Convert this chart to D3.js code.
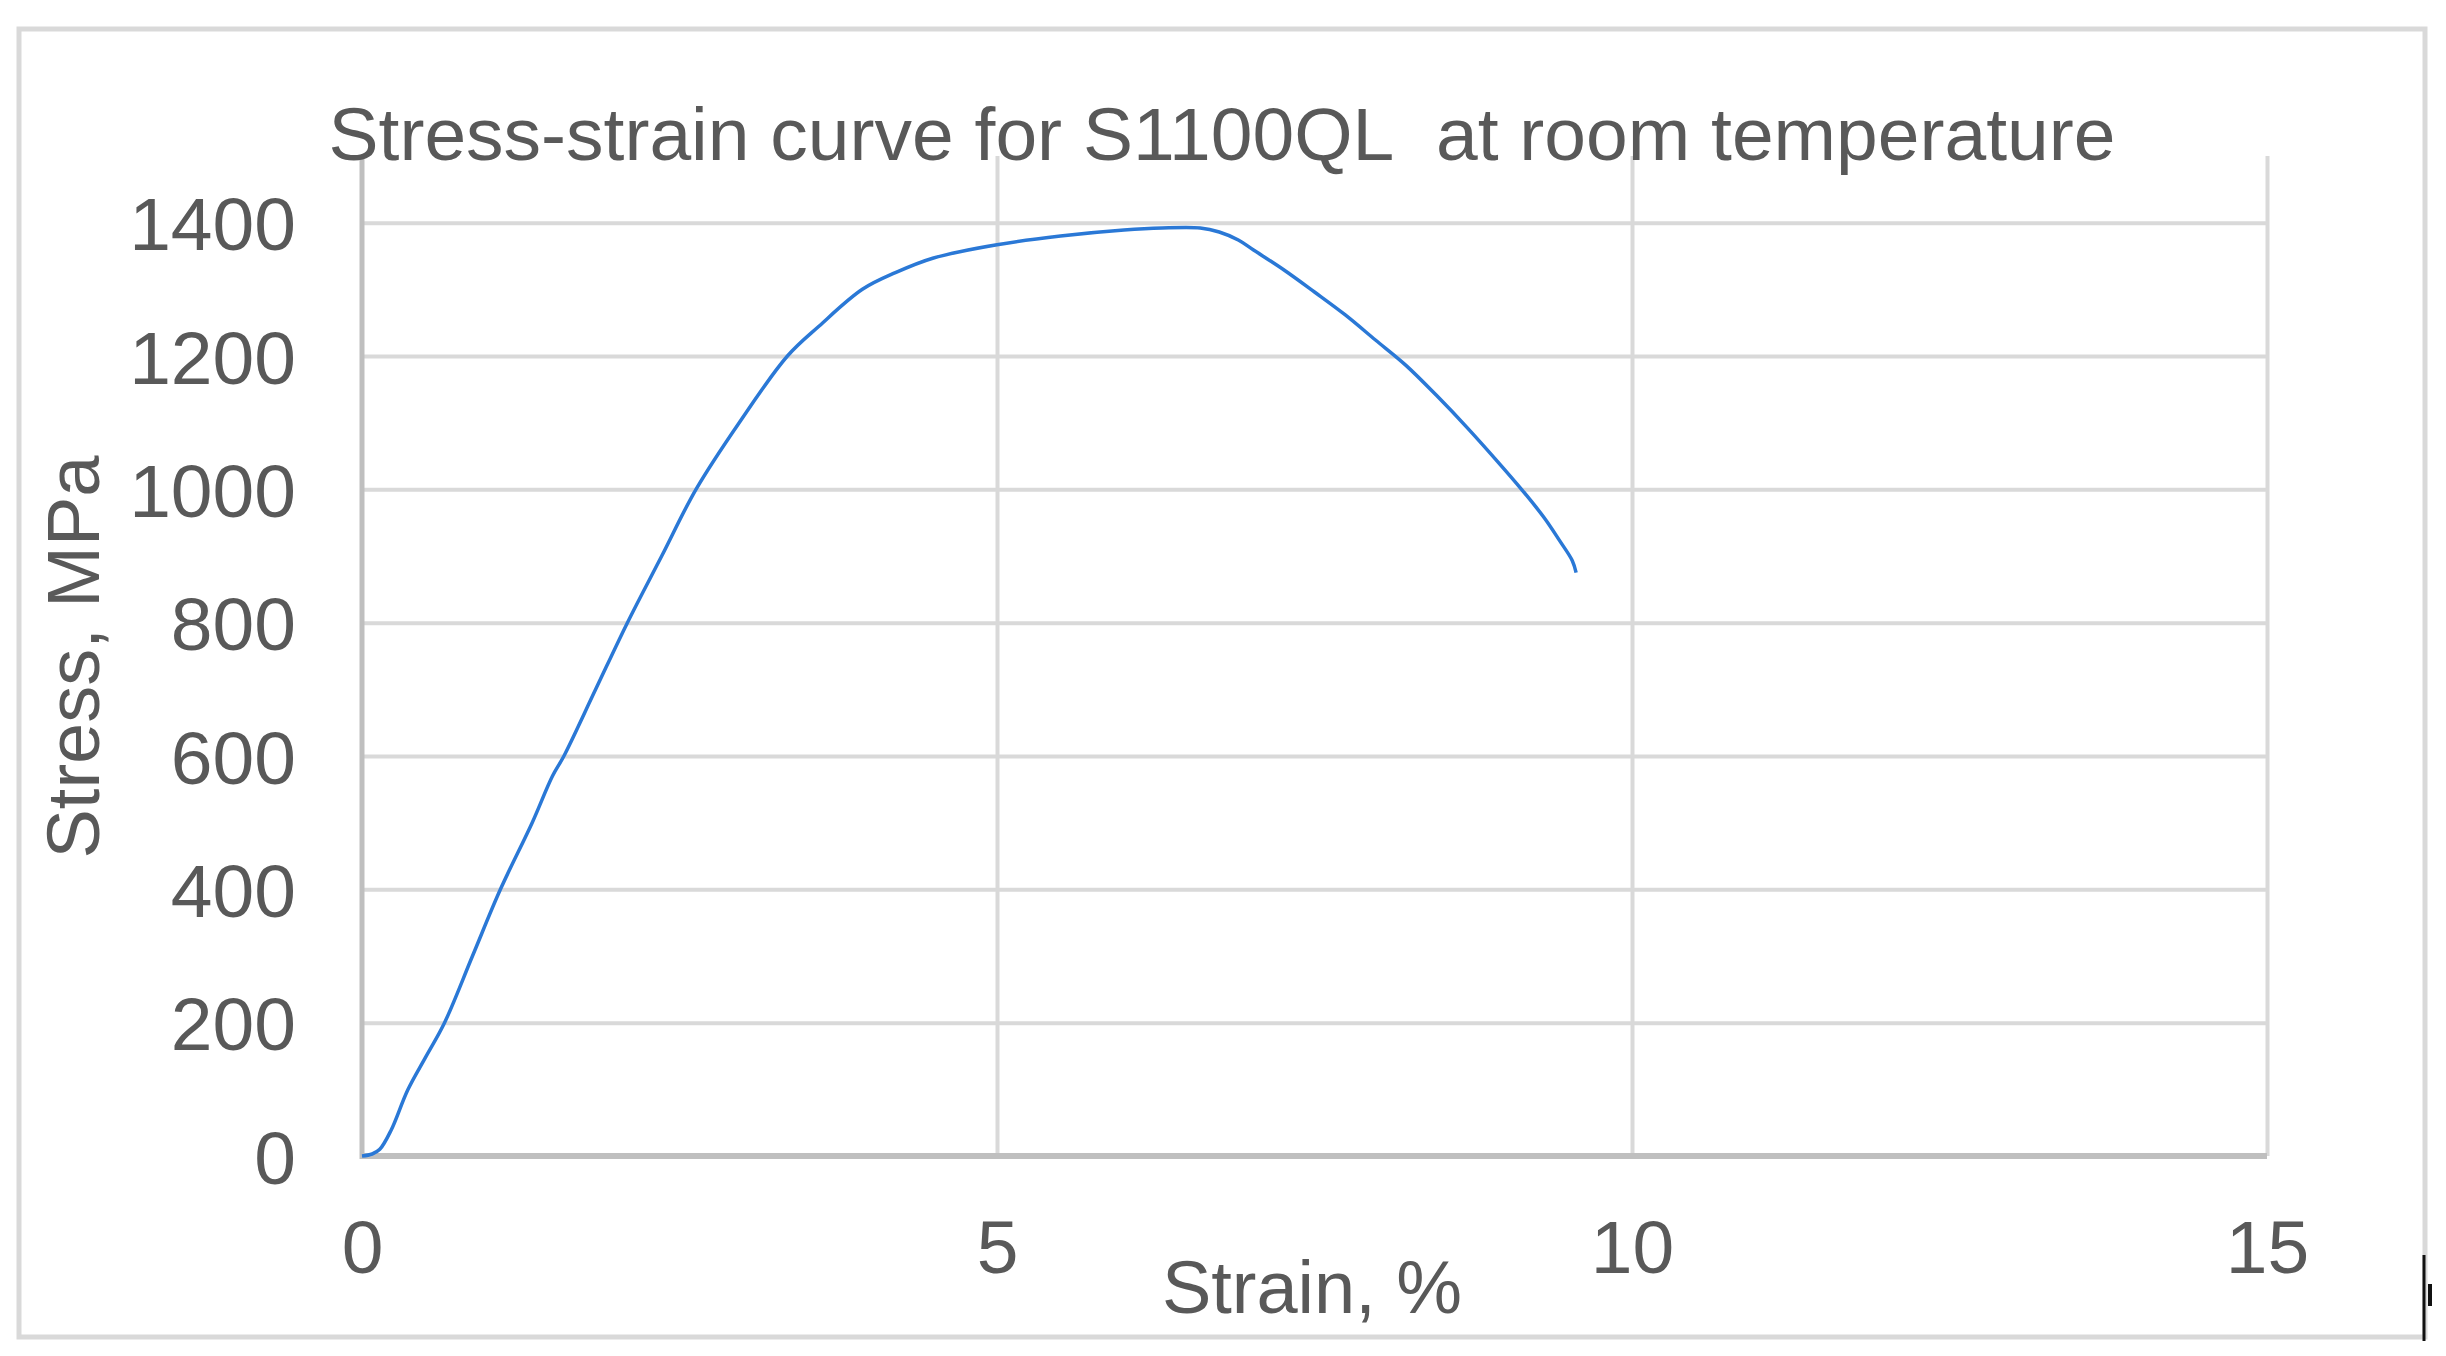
<!DOCTYPE html>
<html>
<head>
<meta charset="utf-8">
<script src="https://cdn.jsdelivr.net/npm/d3@7"></script>
<style>
  html, body { margin: 0; padding: 0; background: #ffffff; }
  svg { display: block; }
  text { font-family: "Liberation Sans", Arial, sans-serif; fill: #595959; }
</style>
</head>
<body>
<svg id="chart" width="2446" height="1356"></svg>
<script>
// ---- Data ----
const strain = [0, 0.08, 0.14, 0.23, 0.36, 0.50, 0.65, 0.87, 1.09, 1.34, 1.50, 1.59, 1.84, 2.09, 2.36, 2.63,
  2.97, 3.35, 3.60, 3.94, 4.20, 4.50, 5.00, 5.50, 6.00, 6.30, 6.60, 6.75, 6.90,
  7.02, 7.26, 7.50, 7.74, 7.98, 8.22, 8.46, 8.70, 8.94, 9.13, 9.31, 9.43, 9.53, 9.56];
const stress = [0, 3, 10, 39, 99, 148, 200, 300, 400, 500, 570, 600, 700, 800, 900, 1000,
  1100, 1200, 1245, 1300, 1325, 1347, 1367, 1380, 1389, 1392, 1392, 1386, 1374,
  1359, 1329, 1296, 1262, 1224, 1186, 1141, 1093, 1042, 1000, 957, 923, 893, 875];
const xTicks = [0, 5, 10, 15];
const yTicks = [0, 200, 400, 600, 800, 1000, 1200, 1400];
const titleText = "Stress-strain curve for S1100QL\u00a0 at room temperature";
const xTitle = "Strain, %";
const yTitle = "Stress, MPa";

// ---- Layout ----
const svg = d3.select("#chart");
const x = d3.scaleLinear().domain([0, 15]).range([362, 2267]);
const y = d3.scaleLinear().domain([0, 1500]).range([1156, 156]);

// outer border
svg.append("rect").attr("x", 19).attr("y", 29).attr("width", 2406).attr("height", 1308)
  .attr("fill", "#ffffff").attr("stroke", "#d9d9d9").attr("stroke-width", 5);

// horizontal gridlines
const gy = svg.append("g")
  .attr("transform", `translate(${x(0)},0)`)
  .call(d3.axisLeft(y).tickValues(yTicks).tickSize(-(x(15) - x(0))).tickFormat(""));
gy.select(".domain").remove();
gy.selectAll(".tick line").attr("stroke", "#d9d9d9").attr("stroke-width", 4);

// vertical gridlines
const gx = svg.append("g")
  .attr("transform", `translate(0,${y(0)})`)
  .call(d3.axisBottom(x).tickValues(xTicks.slice(1)).tickSize(-(y(0) - y(1500))).tickFormat(""));
gx.select(".domain").remove();
gx.selectAll(".tick line").attr("stroke", "#d9d9d9").attr("stroke-width", 4);

// axis lines
svg.append("line").attr("x1", x(0)).attr("x2", x(0)).attr("y1", y(1500)).attr("y2", y(0) + 3)
  .attr("stroke", "#bfbfbf").attr("stroke-width", 5);
svg.append("line").attr("x1", x(0)).attr("x2", x(15)).attr("y1", y(0)).attr("y2", y(0))
  .attr("stroke", "#bfbfbf").attr("stroke-width", 6);

// y tick labels
const yAxis = svg.append("g")
  .attr("transform", `translate(${x(0)},0)`)
  .call(d3.axisLeft(y).tickValues(yTicks).tickSize(0).tickPadding(66).tickFormat(d3.format("d")));
yAxis.select(".domain").remove();
yAxis.selectAll("text").attr("font-size", 75).attr("fill", "#595959")
  .attr("font-family", "Liberation Sans, Arial, sans-serif").attr("dy", "0.36em");

// x tick labels
const xAxis = svg.append("g")
  .attr("transform", `translate(0,${y(0)})`)
  .call(d3.axisBottom(x).tickValues(xTicks).tickSize(0).tickPadding(64).tickFormat(d3.format("d")));
xAxis.select(".domain").remove();
xAxis.selectAll("text").attr("font-size", 75).attr("fill", "#595959")
  .attr("font-family", "Liberation Sans, Arial, sans-serif");

// curve
const pts = strain.map((s, i) => [s, stress[i]]);
svg.append("path").datum(pts)
  .attr("fill", "none").attr("stroke", "#2a78d6").attr("stroke-width", 3.5)
  .attr("stroke-linejoin", "round")
  .attr("d", d3.line().x(d => x(d[0])).y(d => y(d[1])).curve(d3.curveCatmullRom.alpha(0.5)));

// title
svg.append("text").attr("x", 1222).attr("y", 160).attr("text-anchor", "middle")
  .attr("font-size", 75).text(titleText);

// axis titles
svg.append("text").attr("x", 1312).attr("y", 1313).attr("text-anchor", "middle")
  .attr("font-size", 74).text(xTitle);
svg.append("text").attr("transform", "translate(99,657) rotate(-90)").attr("text-anchor", "middle")
  .attr("font-size", 74).text(yTitle);

// small dark marks at the lower right edge (present in the reference)
svg.append("line").attr("x1", 2424).attr("x2", 2424).attr("y1", 1255).attr("y2", 1341)
  .attr("stroke", "#111111").attr("stroke-width", 3);
svg.append("line").attr("x1", 2430).attr("x2", 2430).attr("y1", 1284).attr("y2", 1306)
  .attr("stroke", "#111111").attr("stroke-width", 4);
</script>
</body>
</html>
